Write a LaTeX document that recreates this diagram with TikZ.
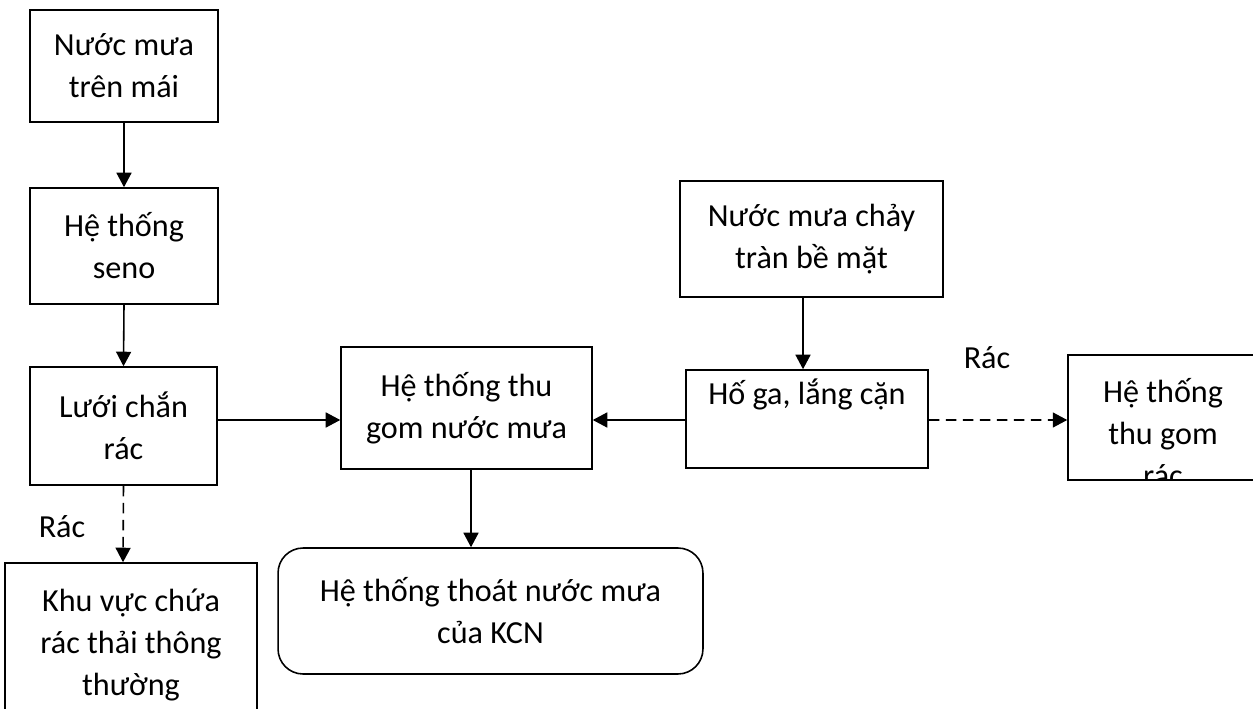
\documentclass[tikz,border=0pt]{standalone}
\usepackage{fontspec}
\setmainfont{Carlito}
\usetikzlibrary{arrows.meta}
\begin{document}
\begin{tikzpicture}[x=0.02cm, y=-0.02cm,
  box/.style={draw, line width=0.9pt, align=center, inner sep=0pt,
    font=\fontsize{18.3}{23.9}\selectfont},
  txt/.style={align=center, inner sep=0pt, font=\fontsize{18.3}{23.9}\selectfont},
  arr/.style={-{Triangle[length=0.29cm,width=0.3cm]}, line width=0.9pt},
  dashline/.style={arr, dash pattern=on 0.21cm off 0.13cm}]
\useasboundingbox (0,0) rectangle (1253,709);
\clip (0,0) rectangle (1253,709);
\node[box, minimum width=3.76cm, minimum height=2.24cm] (mai) at (124,66) {Nước mưa\\trên mái};
\node[box, minimum width=3.76cm, minimum height=2.32cm] (seno) at (124,246) {Hệ thống\\seno};
\node[box, minimum width=3.74cm, minimum height=2.36cm] (luoi) at (123.5,426) {Lưới chắn\\rác};
\node[box, minimum width=5.04cm, minimum height=3.28cm] (khuvuc) at (131,645) {Khu vực chứa\\rác thải thông\\thường};
\node[box, minimum width=5.02cm, minimum height=2.44cm] (thugom) at (466.5,408) {Hệ thống thu\\gom nước mưa};
\node[box, rounded corners=0.5cm, minimum width=8.5cm, minimum height=2.52cm] (thoat) at (490.5,611) {Hệ thống thoát nước mưa\\của KCN};
\node[box, minimum width=5.26cm, minimum height=2.32cm] (chaytran) at (811.5,239) {Nước mưa chảy\\tràn bề mặt};
\node[box, minimum width=4.84cm, minimum height=1.96cm] (hoga) at (807,419) {Hố ga, lắng cặn\\\strut};
\node[box, minimum width=4cm, minimum height=2.5cm] (thugomrac) at (1168,417.5) {};
\begin{scope}
\clip (thugomrac.south west) rectangle (thugomrac.north east);
\node[txt] (thugomracText) at ([xshift=-0.1cm, yshift=-0.3cm]thugomrac.center) {Hệ thống\\thu gom\\rác};
\end{scope}
\node[txt] (racA) at (62,527) {Rác};
\node[txt] (racB) at (987,358) {Rác};
\draw[arr] (mai.south) -- (seno.north);
\draw[arr] (seno.south) -- (luoi.north);
\draw[arr] ([yshift=0.12cm]luoi.east) -- ([yshift=-0.24cm]thugom.west);
\draw[arr] ([yshift=-0.02cm]hoga.west) -- ([yshift=-0.24cm]thugom.east);
\draw[arr] ([xshift=-0.17cm]chaytran.south) -- ([xshift=-0.08cm]hoga.north);
\draw[arr] ([xshift=0.09cm]thugom.south) -- ([xshift=-0.39cm]thoat.north);
\draw[dashline] (luoi.south) -- ([xshift=-0.16cm]khuvuc.north);
\draw[dashline] ([yshift=-0.02cm]hoga.east) -- ([yshift=-0.05cm]thugomrac.west);
\end{tikzpicture}
\end{document}
